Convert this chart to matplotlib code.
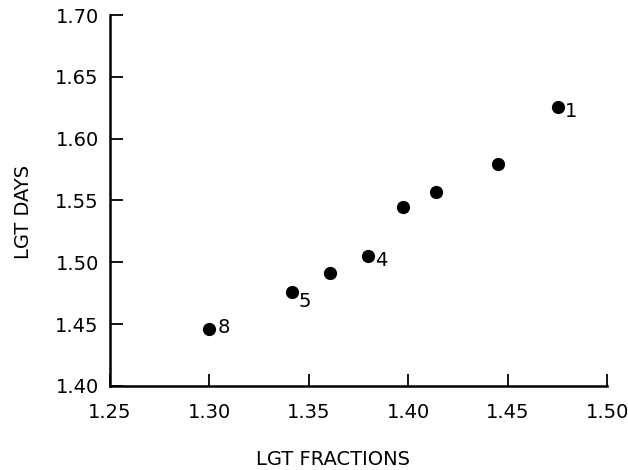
import matplotlib.pyplot as plt

lgt_fractions = [1.300, 1.3415, 1.3607, 1.3798, 1.3974, 1.414, 1.445, 1.4754]
lgt_days = [1.446, 1.476, 1.4914, 1.505, 1.5448, 1.557, 1.5796, 1.6257]

# numbered points and where their labels sit (offset in points)
point_labels = {0: ('8', (6, 1)), 1: ('5', (5, -7)), 3: ('4', (5, -3)), 7: ('1', (5, -3))}

plt.rcParams['font.family'] = ['DejaVu Sans']

fig = plt.figure(figsize=(6.28, 4.70), dpi=100)
ax = fig.add_axes([0.175, 0.179, 0.792, 0.789])

ax.plot(lgt_fractions, lgt_days, 'o', color='black', ms=8.5, mec='black')

for i, (txt, off) in point_labels.items():
    ax.annotate(txt, (lgt_fractions[i], lgt_days[i]), xytext=off,
                textcoords='offset points', ha='left', va='center', fontsize=14)

ax.set_xlim(1.25, 1.50)
ax.set_ylim(1.40, 1.70)
ax.set_xticks([1.25, 1.30, 1.35, 1.40, 1.45, 1.50])
ax.set_yticks([1.40, 1.45, 1.50, 1.55, 1.60, 1.65, 1.70])
ax.set_xticklabels(['%.2f' % v for v in ax.get_xticks()])
ax.set_yticklabels(['%.2f' % v for v in ax.get_yticks()])

for side in ['top', 'right']:
    ax.spines[side].set_visible(False)
for side in ['left', 'bottom']:
    ax.spines[side].set_linewidth(1.8)

ax.tick_params(direction='in', length=9, width=1.3, labelsize=14, pad=8)
ax.tick_params(axis='x', pad=12)

ax.set_xlabel('LGT FRACTIONS', fontsize=14)
ax.set_ylabel('LGT DAYS', fontsize=14)
ax.xaxis.set_label_coords(0.449, -0.172)
ax.yaxis.set_label_coords(-0.155, 0.47)

fig.savefig('out.png', dpi=100)
